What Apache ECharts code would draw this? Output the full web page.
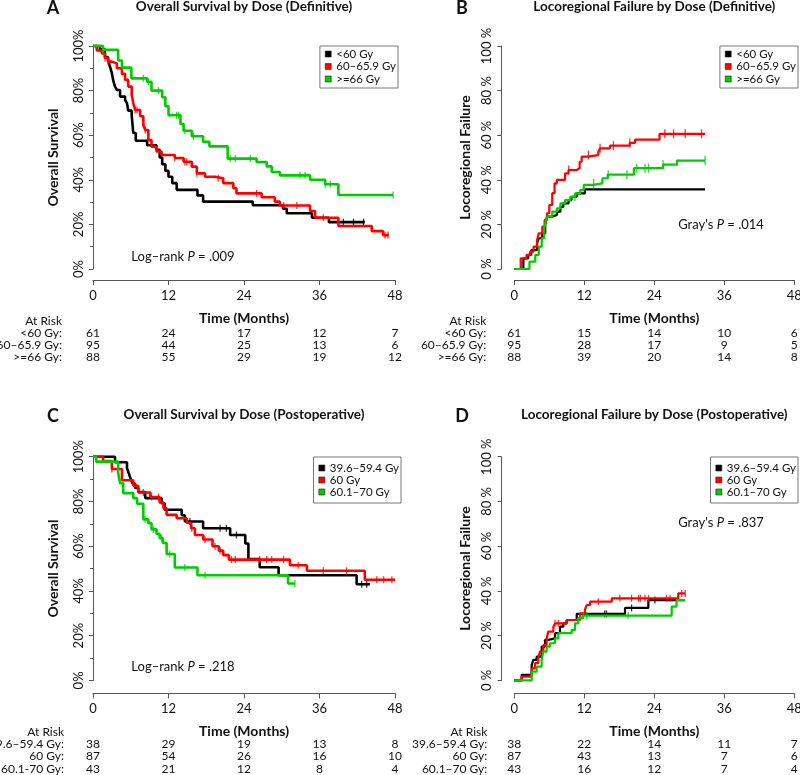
<!DOCTYPE html>
<html><head><meta charset="utf-8">
<script src="https://cdn.jsdelivr.net/npm/echarts@6/dist/echarts.min.js"></script>
<style>html,body{margin:0;padding:0;background:#fff}#c{width:800px;height:775px}</style>
</head><body><div id="c"></div>
<script>
const FONT = "Lato, 'Liberation Sans', sans-serif";
const COLORS = ['#000000', '#ff0000', '#00cc00'];

const monthTicks = [0, 12, 24, 36, 48];

const groupsDef = ['<60 Gy', '60–65.9 Gy', '>=66 Gy'];
const groupsPost = ['39.6–59.4 Gy', '60 Gy', '60.1–70 Gy'];
const riskLabelsA = ['<60 Gy:', '60–65.9 Gy:', '>=66 Gy:'];
const riskLabelsC = ['39.6–59.4 Gy:', '60 Gy:', '60.1-70 Gy:'];
const riskLabelsD = ['39.6–59.4 Gy:', '60 Gy:', '60.1–70 Gy:'];

// ---- Panel A: overall survival, definitive ([month, %])
const osDefLt60 = [[0,100],[1.1,98.5],[1.9,95],[2.4,93.7],[2.7,90.7],[3.0,87.8],[3.2,84.7],[3.5,81.8],[3.8,80.3],[4.3,77.3],[5.1,75.8],[5.4,74.4],[5.6,71],[6.15,69],[6.4,61],[6.8,57.5],[8.6,55.5],[10.1,53.5],[10.6,50],[11.0,47],[11.5,44],[12.0,41.4],[12.6,38.5],[13.3,35.5],[16.6,33],[17.5,30.2],[25.4,28.6],[30.2,27],[30.8,25],[34.8,23],[37.5,21],[43.2,21]];
const osDef60 = [[0,100],[0.6,98],[1.4,96.7],[1.9,94.6],[2.4,93],[3.0,92.2],[3.8,90],[4.6,87.5],[5.1,84.8],[5.6,81.8],[6.15,78],[6.4,74.4],[6.7,71.3],[7.5,68.5],[8.0,64.6],[8.3,62.3],[8.8,57.8],[9.3,54.8],[10.1,52.7],[10.9,51.1],[13.0,49.8],[14.4,48.1],[15.7,45.9],[16.5,42.9],[17.8,41.4],[19.4,40.7],[20.7,38.5],[22.3,36.2],[22.8,33.9],[26.8,32.2],[28.9,30.2],[29.7,28.5],[34.5,26],[35.3,23],[39.0,19.3],[44.3,17],[46.1,15.2],[47.0,15.2]];
const osDef66 = [[0,100],[1.6,98.3],[4.0,93.5],[4.6,90.3],[6.1,85.5],[8.6,84],[9.3,80],[11.0,77],[11.5,73],[12.0,69],[13.9,65],[14.4,62],[15.7,59.5],[17.5,57],[18.5,55],[21.4,49.5],[26.0,48],[27.6,46],[28.4,43.5],[29.7,42],[34.5,40],[36.9,38],[39.0,33.2],[47.7,33.2]];
const osDefLt60Cens = [39.8, 41.4, 43.0];
const osDef60Cens = [1.9, 2.4, 6.7, 7.0, 8.3, 13.0, 14.6, 14.9, 16.5, 19.9, 26.0, 30.3, 32.4, 36.6, 46.4, 46.9];
const osDef66Cens = [1.6, 8.0, 8.8, 10.4, 13.3, 13.6, 14.6, 15.95, 21.8, 22.6, 25.0, 32.9, 33.7, 36.9, 37.7, 47.7];
const riskA_lt60 = [61, 24, 17, 12, 7];
const riskA_60 = [95, 44, 25, 13, 6];
const riskA_66 = [88, 55, 29, 19, 12];

// ---- Panel B: locoregional failure, definitive
const lrfDefLt60 = [[0,0],[1.55,4.8],[2.4,6.3],[2.9,8.5],[3.9,11.5],[4.2,13.8],[4.8,16],[5.3,19.7],[5.6,23.5],[6.5,24.2],[7.3,25.7],[7.9,27.9],[8.4,29.4],[9.3,30.9],[9.8,32.4],[10.7,33.9],[12.1,35.7],[32.7,35.7]];
const lrfDef60 = [[0,0],[1.1,4.8],[2.1,6.3],[2.7,7.8],[3.3,10],[3.9,13],[4.2,16],[4.8,19],[5.2,22],[5.6,25],[6.0,28.7],[6.5,34],[6.9,38.4],[7.3,40],[8.7,42.9],[9.3,44.4],[10.7,45.2],[11.2,48.1],[11.55,50.4],[12.6,51.1],[14.4,52.6],[14.7,54.1],[16.4,55.3],[19.8,56.6],[20.7,58],[24.9,60.6],[32.7,60.6]];
const lrfDef66 = [[0,0],[2.6,3.3],[3.6,6.3],[4.2,10],[4.7,13.8],[5.1,18.3],[5.4,21.2],[5.6,23.5],[6.5,25.7],[7.3,27.2],[7.9,29.4],[8.7,30.9],[9.6,32.4],[10.5,33.9],[11.3,35.4],[11.9,37.7],[13.6,38.4],[15.1,40.7],[16.0,42.3],[20.5,45.2],[25.5,46.8],[27.9,48.6],[32.7,48.6]];
const lrfDefLt60Cens = [];
const lrfDef60Cens = [9.3, 12.7, 14.7, 17.0, 19.8, 25.8, 27.3, 29.3, 32.1];
const lrfDef66Cens = [10.4, 13.6, 16.1, 19.3, 21.0, 22.4, 23.0, 25.5, 32.7];
const riskB_lt60 = [61, 15, 14, 10, 6];
const riskB_60 = [95, 28, 17, 9, 5];
const riskB_66 = [88, 39, 20, 14, 8];

// ---- Panel C: overall survival, postoperative
const osPostLow = [[0,100],[3.5,97.5],[5.4,94.9],[5.7,92.5],[6.0,90],[6.3,88],[6.7,86],[7.2,84.2],[8.3,81.5],[10.9,79.2],[11.4,76.3],[14.1,73.8],[14.6,71],[17.5,68],[21.8,65],[24.2,61.2],[24.7,54.2],[26.5,50.6],[29.5,47],[41.9,43],[44.0,43]];
const osPost60 = [[0,100],[1.6,98],[3.0,94.5],[4.6,89.5],[6.4,87],[7.2,84],[9.1,82],[10.6,79.5],[11.2,77],[11.7,74],[13.3,72.5],[14.9,70.5],[15.6,68],[16.2,65],[17.5,63],[19.0,60],[20.0,58],[20.7,56],[21.6,54],[31.3,51.5],[34.0,49],[43.2,45],[48,45]];
const osPostHigh = [[0,100],[0.5,97.8],[4.0,92.7],[4.3,88.2],[4.8,83.7],[6.4,81.5],[7.0,79],[8.0,72],[8.8,70.3],[9.3,67.5],[10.1,65.5],[10.6,63.6],[11.1,61.4],[11.7,56.5],[13.0,50.5],[16.6,47],[31.0,43.3],[32.1,43.3]];
const osPostLowCens = [15.4, 20.2, 21.2, 22.8, 42.7, 43.5];
const osPost60Cens = [3.0, 8.0, 9.3, 10.4, 15.7, 17.8, 19.4, 20.2, 22.0, 22.6, 26.5, 27.6, 28.4, 30.3, 32.6, 36.6, 40.3, 45.1, 46.2, 47.5];
const osPostHighCens = [8.3, 9.6, 10.9, 12.2, 14.6, 17.8, 32.1];
const riskC_low = [38, 29, 19, 13, 8];
const riskC_60 = [87, 54, 26, 16, 10];
const riskC_high = [43, 21, 12, 8, 4];

// ---- Panel D: locoregional failure, postoperative
const lrfPostLow = [[0,0],[1.26,2.5],[2.98,6.9],[3.26,9.2],[3.83,10.6],[4.69,15.1],[5.26,18.1],[5.83,18.8],[6.98,21.1],[7.83,24],[8.41,25.5],[8.98,27],[10.7,29.7],[18.98,32.4],[22.98,35.9],[29.26,35.9]];
const lrfPost60 = [[0,0],[1.26,1.7],[2.98,5.4],[3.55,7.7],[4.1,9.9],[4.4,12.9],[4.98,15.8],[5.55,18.8],[5.83,21.8],[6.7,24],[6.98,25.5],[8.98,27],[11.3,30],[12.1,31.5],[12.4,33.7],[12.98,35.2],[16.7,36.7],[28.1,38.9],[29.26,38.9]];
const lrfPostHigh = [[0,0],[2.98,3.9],[3.83,6.2],[4.69,9.2],[4.98,12.9],[5.55,15.1],[6.1,16.6],[6.98,18.8],[7.55,21.1],[9.83,22.5],[10.4,25.5],[10.98,27.8],[11.8,29.0],[26.98,33],[27.8,35.9],[29.26,35.9]];
const lrfPostLowCens = [15.5, 15.8, 20.1, 24.1];
const lrfPost60Cens = [6.98, 7.55, 14.4, 18.1, 20.1, 21.3, 21.6, 22.4, 23.0, 26.1, 26.7, 28.7, 29.3];
const lrfPostHighCens = [11.8, 12.4, 19.5];
const riskD_low = [38, 22, 14, 11, 7];
const riskD_60 = [87, 43, 13, 7, 6];
const riskD_high = [43, 16, 12, 7, 4];

function stepAt(curve, t) {
  let v = curve[0][1];
  for (const p of curve) { if (p[0] <= t + 1e-9) v = p[1]; else break; }
  return v;
}

const panels = [
  { grid:{left:93, top:46, width:302, height:223}, xOff:11, yOff:0, yFmt:'{value}%', minor:true, lw:2.6, cens:[1.3,7],
    title:'Overall Survival by Dose (Definitive)', letter:'A', letterX:53, titleY:7,
    yName:'Overall Survival', yNameGap:33, names:groupsDef,
    curves:[osDefLt60, osDef60, osDef66], censTimes:[osDefLt60Cens, osDef60Cens, osDef66Cens],
    risk:[riskA_lt60, riskA_60, riskA_66], riskLabels:riskLabelsA, riskGap:31,
    legend:{right:402, top:46, lh:11, gap:0.5, pad:[2,2,3,5]},
    note:{rich:'{a|Log–rank }{i|P}{a| = .009}', x:183, y:257} },
  { grid:{left:514.3, top:46, width:280, height:223}, xOff:11, yOff:13, yFmt:'{value} %', minor:false, lw:2.2, cens:[1.3,9],
    title:'Locoregional Failure by Dose (Definitive)', letter:'B', letterX:462, titleY:7,
    yName:'Locoregional Failure', yNameGap:29, names:groupsDef,
    curves:[lrfDefLt60, lrfDef60, lrfDef66], censTimes:[lrfDefLt60Cens, lrfDef60Cens, lrfDef66Cens],
    risk:[riskB_lt60, riskB_60, riskB_66], riskLabels:riskLabelsA, riskGap:28,
    legend:{right:2, top:46, lh:11, gap:0.5, pad:[2,2,3,5]},
    note:{rich:"{a|Gray's }{i|P}{a| = .014}", x:721, y:225} },
  { grid:{left:93, top:456.7, width:302, height:223.7}, xOff:13, yOff:0, yFmt:'{value}%', minor:true, lw:2.6, cens:[1.3,7],
    title:'Overall Survival by Dose (Postoperative)', letter:'C', letterX:53, titleY:415,
    yName:'Overall Survival', yNameGap:33, names:groupsPost,
    curves:[osPostLow, osPost60, osPostHigh], censTimes:[osPostLowCens, osPost60Cens, osPostHighCens],
    risk:[riskC_low, riskC_60, riskC_high], riskLabels:riskLabelsC, riskGap:29,
    legend:{right:399, top:457, lh:9.7, gap:0, pad:[5,2,5,5]},
    note:{rich:'{a|Log–rank }{i|P}{a| = .218}', x:183, y:667} },
  { grid:{left:514.3, top:456.7, width:280, height:223.7}, xOff:13, yOff:12.7, yFmt:'{value} %', minor:false, lw:2.2, cens:[1.3,7],
    title:'Locoregional Failure by Dose (Postoperative)', letter:'D', letterX:462, titleY:415,
    yName:'Locoregional Failure', yNameGap:29, names:groupsPost,
    curves:[lrfPostLow, lrfPost60, lrfPostHigh], censTimes:[lrfPostLowCens, lrfPost60Cens, lrfPostHighCens],
    risk:[riskD_low, riskD_60, riskD_high], riskLabels:riskLabelsD, riskGap:27,
    legend:{right:2, top:457, lh:9.7, gap:0, pad:[5,2,5,5]},
    note:{rich:"{a|Gray's }{i|P}{a| = .837}", x:721, y:523} }
];

const TXT = '#111';
const AX = '#555';
const riskOffsets = [64, 76, 88.5];

const option = { animation:false, textStyle:{fontFamily:FONT},
  grid:[], xAxis:[], yAxis:[], series:[], legend:[], graphic:[] };

panels.forEach((p, i) => {
  option.grid.push(Object.assign({containLabel:false, outerBoundsMode:'none'}, p.grid));
  const xMain = option.xAxis.length;
  option.xAxis.push({ gridIndex:i, type:'value', min:0, max:48, interval:12, position:'bottom', offset:p.xOff,
    axisLine:{show:true, onZero:false, lineStyle:{color:AX, width:1}},
    axisTick:{show:true, length:5, lineStyle:{color:AX}},
    axisLabel:{fontSize:13, color:TXT, margin:9, fontFamily:FONT, showMinLabel:true, showMaxLabel:true},
    splitLine:{show:false},
    name:'Time (Months)', nameLocation:'middle', nameGap:31, nameMoveOverlap:false,
    nameTextStyle:{fontSize:14, fontWeight:'bold', color:TXT, fontFamily:FONT} });
  option.xAxis.push({ gridIndex:i, type:'value', min:0, max:48, interval:12, position:'bottom', offset:52,
    axisLine:{show:false, onZero:false}, axisTick:{show:false}, axisLabel:{show:false}, splitLine:{show:false},
    name:'At Risk', nameLocation:'start', nameGap:p.riskGap, nameMoveOverlap:false,
    nameTextStyle:{fontSize:12, color:TXT, fontFamily:FONT, align:'right', verticalAlign:'middle'} });
  p.risk.forEach((row, r) => {
    option.xAxis.push({ gridIndex:i, type:'value', min:0, max:48, interval:12, position:'bottom', offset:riskOffsets[r],
      axisLine:{show:false, onZero:false}, axisTick:{show:false}, splitLine:{show:false},
      axisLabel:{show:true, margin:0, verticalAlign:'middle', fontSize:12, color:TXT, fontFamily:FONT,
        showMinLabel:true, showMaxLabel:true,
        formatter: v => String(row[monthTicks.indexOf(v)])},
      name:p.riskLabels[r], nameLocation:'start', nameGap:p.riskGap, nameMoveOverlap:false,
      nameTextStyle:{fontSize:12, color:TXT, fontFamily:FONT, align:'right', verticalAlign:'middle'} });
  });
  option.yAxis.push({ gridIndex:i, type:'value', min:0, max:100, interval:20, position:'left', offset:p.yOff,
    axisLine:{show:true, onZero:false, lineStyle:{color:AX, width:1}},
    axisTick:{show:true, length:4, lineStyle:{color:AX}},
    minorTick:{show:p.minor, splitNumber:2, length:3, lineStyle:{color:AX}},
    axisLabel:{rotate:90, formatter:p.yFmt, fontSize:13, color:TXT, margin:8, fontFamily:FONT},
    splitLine:{show:false}, minorSplitLine:{show:false},
    name:p.yName, nameLocation:'middle', nameGap:p.yNameGap, nameMoveOverlap:false,
    nameTextStyle:{fontSize:14, fontWeight:'bold', color:TXT, fontFamily:FONT} });

  p.curves.forEach((curve, g) => {
    option.series.push({ type:'line', name:p.names[g], xAxisIndex:xMain, yAxisIndex:i, data:curve,
      step:'end', showSymbol:false, symbol:'none', clip:false, silent:true, z:2+g,
      lineStyle:{color:COLORS[g], width:p.lw}, itemStyle:{color:COLORS[g]} });
    option.series.push({ type:'scatter', name:p.names[g] + ' (censored)', xAxisIndex:xMain, yAxisIndex:i,
      data:p.censTimes[g].map(t => [t, stepAt(curve, t)]), symbol:'rect', symbolSize:p.cens,
      clip:false, silent:true, z:2+g, itemStyle:{color:COLORS[g]} });
  });

  option.legend.push({ data:p.names.map(n => ({name:n, icon:'rect'})), orient:'vertical',
    right:p.legend.right, top:p.legend.top, itemWidth:6, itemHeight:6, itemGap:p.legend.gap,
    padding:p.legend.pad, borderColor:'#777', borderWidth:1, borderRadius:0, backgroundColor:'#fff',
    selectedMode:false, z:10,
    itemStyle:{borderColor:'#222', borderWidth:0.6},
    textStyle:{fontSize:11.5, lineHeight:p.legend.lh, color:TXT, fontFamily:FONT} });

  const cx = p.grid.left + p.grid.width / 2;
  option.graphic.push({ type:'text', x:cx, y:p.titleY, silent:true,
    style:{ text:p.title, align:'center', verticalAlign:'middle', fill:TXT, fontSize:13.5, fontWeight:'bold', fontFamily:FONT } });
  option.graphic.push({ type:'text', x:p.letterX, y:p.titleY + 1, silent:true,
    style:{ text:p.letter, align:'center', verticalAlign:'middle', fill:TXT, fontSize:18, fontWeight:'bold', fontFamily:FONT } });

  option.graphic.push({ type:'text', x:p.note.x, y:p.note.y, silent:true,
    style:{ text:p.note.rich, align:'center', verticalAlign:'middle', fill:TXT, fontSize:13, fontFamily:FONT,
      rich:{ a:{fontSize:13, fontFamily:FONT, fill:TXT}, i:{fontSize:13, fontStyle:'italic', fontFamily:FONT, fill:TXT} } } });
});

const chart = echarts.init(document.getElementById('c'), null, {renderer:'canvas'});
chart.setOption(option);
</script>
</body></html>
